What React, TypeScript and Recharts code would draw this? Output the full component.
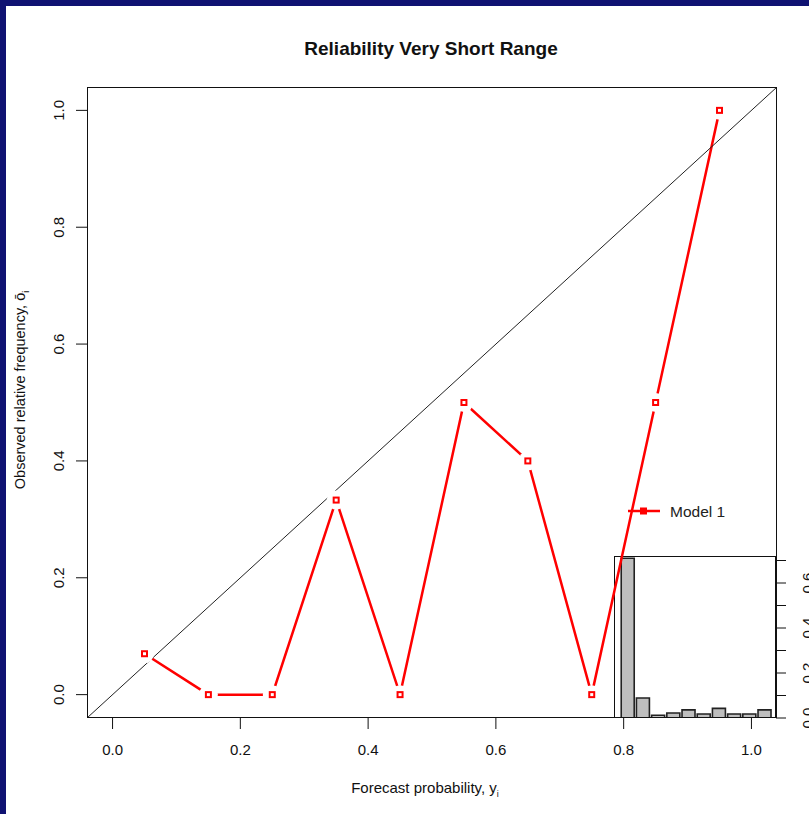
import React from 'react';
import { ComposedChart, Line, XAxis, YAxis, BarChart, Bar } from 'recharts';

// reliability points (bin centres vs observed frequency)
const forecastProb = [0.05, 0.15, 0.25, 0.35, 0.45, 0.55, 0.65, 0.75, 0.85, 0.95];
const observedFreq = [0.07, 0, 0, 0.333, 0, 0.5, 0.4, 0, 0.5, 1.0];

// sharpness histogram (relative frequency of forecasts per bin)
const binNames = ['0.0', '0.1', '0.2', '0.3', '0.4', '0.5', '0.6', '0.7', '0.8', '0.9'];
const binFreq = [0.71, 0.089, 0.012, 0.022, 0.036, 0.018, 0.043, 0.018, 0.018, 0.036];

const axisTicks = [0, 0.2, 0.4, 0.6, 0.8, 1.0];
const insetTicks = [0, 0.1, 0.2, 0.3, 0.4, 0.5, 0.6, 0.7];
const insetLabelled = ['0.0', '0.2', '0.4', '0.6'];
const perfectLine = [
  { x: -0.04, y: -0.04 },
  { x: 1.04, y: 1.04 },
];

const FONT = '"Liberation Sans", Arial, sans-serif';
const RED = '#ff0000';

const reliability = forecastProb.map((x, i) => ({ x, y: observedFreq[i] }));
const histogram = binNames.map((bin, i) => ({ bin, freq: binFreq[i] }));

// white halo under each marker gives the R type="b" gaps
const GapDot = (props: any) => {
  const { cx, cy, index } = props;
  return (
    <g key={`dot-${index}`}>
      <circle cx={cx} cy={cy} r={9.5} fill="#fff" />
      <rect x={cx - 2.5} y={cy - 2.5} width={5} height={5} fill="none" stroke={RED} strokeWidth={2} />
    </g>
  );
};

const RotTick = (props: any) => {
  const { x, y, payload, only } = props;
  const label = Number(payload.value).toFixed(1);
  if (only && !only.includes(label)) return <g />;
  return (
    <text
      x={x}
      y={y}
      transform={`rotate(-90 ${x} ${y})`}
      textAnchor="middle"
      fontSize={15}
      fontFamily={FONT}
      fill="#111"
    >
      {label}
    </text>
  );
};

export default function App() {
  return (
    <div
      style={{
        position: 'absolute',
        left: 0,
        top: 0,
        width: 809,
        height: 814,
        background: '#0f1272',
        overflow: 'hidden',
        fontFamily: FONT,
      }}
    >
      <div style={{ position: 'absolute', left: 6, top: 6, width: 803, height: 808, background: '#fff' }} />

      {/* inset frame */}
      <div
        style={{
          position: 'absolute',
          left: 614,
          top: 556,
          width: 162,
          height: 162,
          border: '1.3px solid #111',
          boxSizing: 'border-box',
        }}
      />

      <div style={{ position: 'absolute', left: 0, top: 0 }}>
        <BarChart
          width={809}
          height={814}
          data={histogram}
          margin={{ top: 556, right: 0, bottom: 96, left: 614 }}
          barCategoryGap="8%"
        >
          <XAxis dataKey="bin" hide padding={{ left: 6, right: 4 }} />
          <YAxis
            orientation="right"
            width={33}
            domain={[0, 0.72]}
            ticks={insetTicks}
            interval={0}
            axisLine={false}
            tickLine={{ stroke: '#111', strokeWidth: 1 }}
            tickSize={10}
            tickMargin={27}
            tick={<RotTick only={insetLabelled} />}
            allowDataOverflow
          />
          <Bar dataKey="freq" fill="#bebebe" stroke="#222" strokeWidth={1.6} isAnimationActive={false} />
        </BarChart>
      </div>

      <div style={{ position: 'absolute', left: 0, top: 0 }}>
        <ComposedChart width={809} height={814} margin={{ top: 87, right: 32, bottom: 56, left: 27 }}>
          <XAxis
            type="number"
            dataKey="x"
            domain={[-0.04, 1.04]}
            ticks={axisTicks}
            interval={0}
            tickFormatter={(v: number) => v.toFixed(1)}
            allowDataOverflow
            axisLine={false}
            tickLine={{ stroke: '#111' }}
            tickSize={11}
            tickMargin={15}
            height={40}
            tick={{ fontSize: 15, fill: '#111', fontFamily: FONT }}
          />
          <YAxis
            type="number"
            dataKey="y"
            domain={[-0.04, 1.04]}
            ticks={axisTicks}
            interval={0}
            allowDataOverflow
            axisLine={false}
            tickLine={{ stroke: '#111' }}
            tickSize={11}
            tickMargin={12}
            width={60}
            tick={<RotTick />}
          />
          <Line
            data={reliability}
            dataKey="y"
            type="linear"
            stroke={RED}
            strokeWidth={2.5}
            dot={<GapDot />}
            activeDot={false}
            isAnimationActive={false}
          />
          <Line
            data={perfectLine}
            dataKey="y"
            type="linear"
            stroke="#222"
            strokeWidth={1}
            dot={false}
            activeDot={false}
            isAnimationActive={false}
          />
        </ComposedChart>
      </div>

      {/* main frame */}
      <div
        style={{
          position: 'absolute',
          left: 87,
          top: 87,
          width: 690,
          height: 631,
          border: '1.3px solid #111',
          boxSizing: 'border-box',
          pointerEvents: 'none',
        }}
      />

      <svg width={809} height={814} style={{ position: 'absolute', left: 0, top: 0, pointerEvents: 'none' }}>
        <text x={431} y={55} textAnchor="middle" fontSize={19} fontWeight="bold" fill="#111" fontFamily={FONT}>
          Reliability Very Short Range
        </text>
        <text x={425} y={793} textAnchor="middle" fontSize={15} fill="#111" fontFamily={FONT}>
          Forecast probability, y<tspan fontSize={9} dy={4}>i</tspan>
        </text>
        <text
          x={25}
          y={390}
          transform="rotate(-90 25 390)"
          textAnchor="middle"
          fontSize={14.5}
          fill="#111"
          fontFamily={FONT}
        >
          Observed relative frequency, ō<tspan fontSize={9} dy={4}>i</tspan>
        </text>
        {/* legend */}
        <line x1={628} y1={511} x2={660} y2={511} stroke={RED} strokeWidth={2.5} />
        <rect x={640} y={507.5} width={7} height={7} fill={RED} />
        <text x={670} y={516.5} fontSize={15.5} fill="#222" fontFamily={FONT}>
          Model 1
        </text>
      </svg>
    </div>
  );
}
